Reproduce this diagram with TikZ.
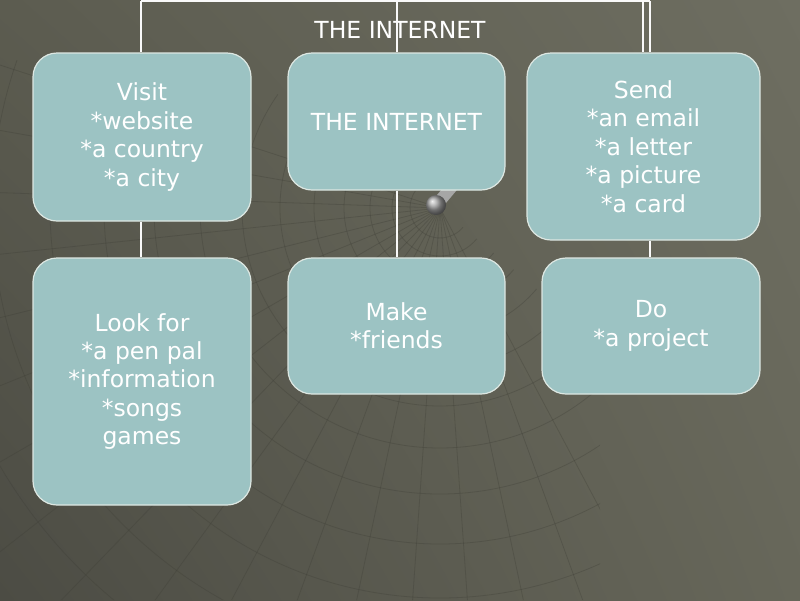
\documentclass[tikz,border=0pt]{standalone}
\usepackage{fontspec}
\setmainfont{DejaVu Sans}
\usetikzlibrary{shadings}
\definecolor{boxfill}{HTML}{9CC3C3}
\definecolor{boxline}{HTML}{DDE7E2}
\definecolor{webc}{HTML}{3E3E36}
\definecolor{bgUL}{RGB}{92,92,80}
\definecolor{bgUR}{RGB}{110,110,97}
\definecolor{bgLL}{RGB}{76,76,68}
\definecolor{bgLR}{RGB}{103,103,90}
\begin{document}
\begin{tikzpicture}[x=1pt,y=-1pt,
  box/.style={draw=boxline, line width=1.2pt, fill=boxfill, rounded corners=24pt,
    text=white, align=center, inner sep=0pt,
    font=\fontsize{23.5}{28.4}\selectfont},
  link/.style={draw=white!95!gray, line width=1.8pt},
  title/.style={text=white, font=\fontsize{23.5}{28}\selectfont, inner sep=0pt}]
\useasboundingbox (0,0) rectangle (800,600);
% background
\shade[upper left=bgUL, upper right=bgUR, lower left=bgLL, lower right=bgLR]
  (0,0) rectangle (800,600);
% decorative web
\coordinate (F) at (440,208);
\begin{scope}
  \clip (0,60) -- (300,60) -- (600,300) -- (600,600) -- (0,600) -- cycle;
  \begin{scope}[draw=webc, line width=0.8pt, opacity=0.33]
    \foreach \a in {62,70,78,86,94,102,110,118,126,134,142,150,158,166,174,182,190,198}
      \draw (F) -- ++(\a:800);
    \foreach \r in {30,48,70,96,126,160,198,240,286,336,390,448,510}
      \draw (F) ++(40:\r) arc[start angle=40, end angle=215, radius=\r];
  \end{scope}
\end{scope}
% pushpin
\fill[gray!70, rotate around={-40:(444,196)}] (438,180) rectangle (450,200);
\shade[ball color=gray!75] (436,205) circle (10);
% title
\node[title] (title) at (400,30) {THE INTERNET};
% connector ends
\coordinate (tl) at (141,1);
\coordinate (tm) at (397,1);
\coordinate (tr1) at (643,1);
\coordinate (tr2) at (650,1);
% boxes
\node[box, minimum width=218pt, minimum height=168pt] (visit) at (142,137)
  {Visit\\*website\\*a country\\*a city};
\node[box, minimum width=217pt, minimum height=137pt] (core) at (396.5,121.5)
  {THE INTERNET};
\node[box, minimum width=233pt, minimum height=187pt] (send) at (643.5,146.5)
  {Send\\*an email\\*a letter\\*a picture\\*a card};
\node[box, minimum width=218pt, minimum height=247pt] (look) at (142,381.5)
  {Look for\\*a pen pal\\*information\\*songs\\games};
\node[box, minimum width=217pt, minimum height=136pt] (make) at (396.5,326)
  {Make\\*friends};
\node[box, minimum width=218pt, minimum height=136pt] (do) at (651,326)
  {Do\\*a project};
\path[link] (tl) -- (tr2);
\path[link] (tl) -- (tl |- visit.north);
\path[link] (tm) -- (tm |- core.north);
\path[link] (tr1) -- (tr1 |- send.north);
\path[link] (tr2) -- (tr2 |- send.north);
\path[link] (visit.south -| tl) -- (look.north -| tl);
\path[link] (core.south -| tm) -- (make.north -| tm);
\path[link] (send.south -| tr2) -- (do.north -| tr2);
\end{tikzpicture}
\end{document}
